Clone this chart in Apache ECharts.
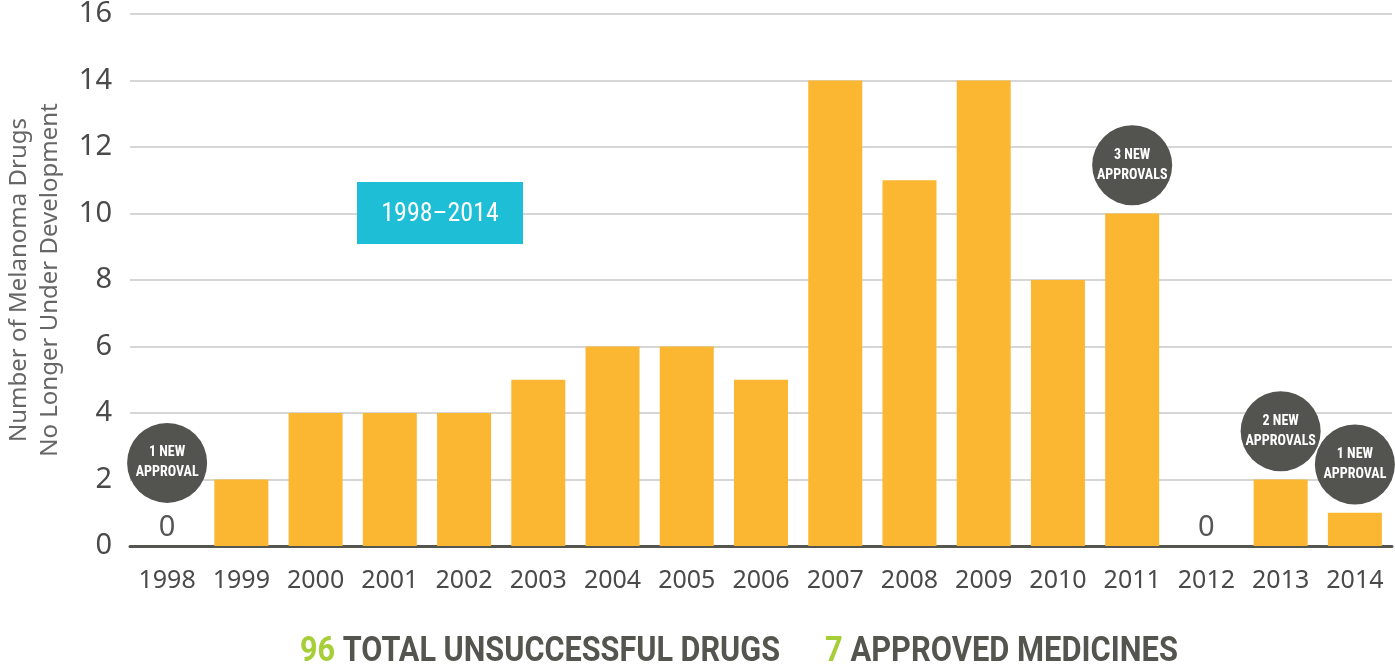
<!DOCTYPE html>
<html>
<head>
<meta charset="utf-8">
<script src="https://cdn.jsdelivr.net/npm/echarts@6/dist/echarts.min.js"></script>
<style>
  html, body { margin: 0; padding: 0; background: #fff; }
  #chart { width: 1395px; height: 669px; }
</style>
</head>
<body>
<div id="chart"></div>
<script>
// years on the x axis
var years = ['1998', '1999', '2000', '2001', '2002', '2003', '2004', '2005', '2006',
             '2007', '2008', '2009', '2010', '2011', '2012', '2013', '2014'];
// drugs no longer under development
var failed = [0, 2, 4, 4, 4, 5, 6, 6, 5, 14, 11, 14, 8, 10, 0, 2, 1];
// new approvals per year (0 = no bubble)
var approvals = [1, 0, 0, 0, 0, 0, 0, 0, 0, 0, 0, 0, 0, 3, 0, 2, 1];
var yTicks = [0, 2, 4, 6, 8, 10, 12, 14, 16];

var totalFailed = 96;
var totalApproved = 7;

var bodyFont = '"Noto Sans", sans-serif';
var headFont = '"Roboto Condensed", Roboto, sans-serif';

function bubbleData(){
    var out = [];
    for(var i = 0; i < years.length; i++){
        if(approvals[i] > 0){
            // bubble sits above the bar (higher when the bar is empty and has a 0 label)
            var y = failed[i] === 0 ? failed[i] + 2.5 : failed[i] + 1.45;
            out.push({value: [years[i], y], n: approvals[i]});
        }
    }
    return out;
}

// squeeze a bold line of text into a given width
function fitScale(text, font, width){
    var ctx = document.createElement('canvas').getContext('2d');
    ctx.font = font;
    return width / ctx.measureText(text).width;
}

var line1 = 'TOTAL UNSUCCESSFUL DRUGS';
var line2 = 'APPROVED MEDICINES';
var footFont = 'bold 35px Roboto';
var s1 = fitScale(totalFailed + ' ' + line1, footFont, 480);
var s2 = fitScale(totalApproved + ' ' + line2, footFont, 353);

var myChart = echarts.init(document.getElementById('chart'));

var option = {
    animation: false,
    grid: { left: 130, right: 3, top: 14, bottom: 123, outerBoundsMode: 'none' },
    xAxis: {
        type: 'category',
        data: years,
        axisTick: { show: false },
        axisLine: { lineStyle: { color: '#55554f', width: 3 } },
        axisLabel: { interval: 0, color: '#4a4a4a', fontSize: 25, margin: 22, fontFamily: bodyFont }
    },
    yAxis: {
        type: 'value',
        min: yTicks[0],
        max: yTicks[yTicks.length - 1],
        interval: 2,
        name: 'Number of Melanoma Drugs\nNo Longer Under Development',
        nameLocation: 'middle',
        nameRotate: 90,
        nameGap: 64,
        nameTextStyle: { color: '#666', fontSize: 24, lineHeight: 31, fontFamily: bodyFont },
        axisLine: { show: false },
        axisTick: { show: false },
        axisLabel: { color: '#4a4a4a', fontSize: 29, margin: 18, fontFamily: bodyFont },
        splitLine: { lineStyle: { color: '#c8c8c8', width: 1.5 } }
    },
    series: [
        {
            type: 'bar',
            data: failed,
            barWidth: 54,
            itemStyle: { color: '#fbb731' },
            label: {
                show: true,
                position: 'top',
                distance: 4,
                color: '#555',
                fontSize: 29,
                fontFamily: bodyFont,
                formatter: function(p){ return p.value === 0 ? '0' : ''; }
            },
            z: 2
        },
        {
            type: 'scatter',
            data: bubbleData(),
            symbol: 'circle',
            symbolSize: 80,
            itemStyle: { color: '#53544f', opacity: 1 },
            label: {
                show: true,
                position: 'inside',
                color: '#fff',
                fontSize: 14,
                fontWeight: 'bold',
                lineHeight: 20,
                fontFamily: headFont,
                formatter: function(p){
                    var n = p.data.n;
                    return n + ' NEW\n' + (n > 1 ? 'APPROVALS' : 'APPROVAL');
                }
            },
            z: 5
        }
    ],
    graphic: [
        {
            type: 'rect',
            x: 357, y: 182,
            shape: { width: 166, height: 62 },
            style: { fill: '#1dbed6' },
            z: 10
        },
        {
            type: 'text',
            x: 440, y: 214,
            style: {
                text: '1998–2014',
                align: 'center',
                verticalAlign: 'middle',
                fill: '#fff',
                fontSize: 26,
                fontFamily: headFont
            },
            z: 11
        },
        {
            type: 'text',
            x: 300, y: 652,
            scaleX: s1,
            style: {
                verticalAlign: 'middle',
                rich: {
                    g: { fill: '#a6ce39', font: footFont },
                    t: { fill: '#55554f', font: footFont }
                },
                text: '{g|' + totalFailed + '}{t| ' + line1 + '}'
            }
        },
        {
            type: 'text',
            x: 825, y: 652,
            scaleX: s2,
            style: {
                verticalAlign: 'middle',
                rich: {
                    g: { fill: '#a6ce39', font: footFont },
                    t: { fill: '#55554f', font: footFont }
                },
                text: '{g|' + totalApproved + '}{t| ' + line2 + '}'
            }
        }
    ]
};

myChart.setOption(option);
</script>
</body>
</html>
